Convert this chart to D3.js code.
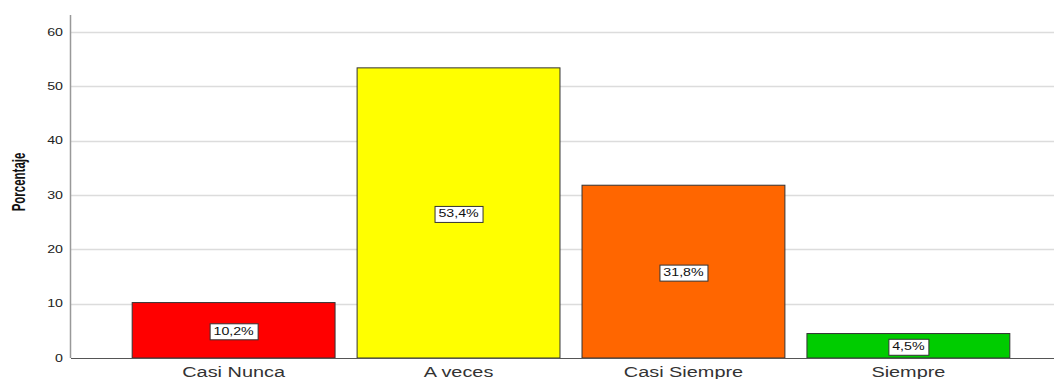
<!DOCTYPE html>
<html>
<head>
<meta charset="utf-8">
<script src="https://cdn.jsdelivr.net/npm/d3@7"></script>
<style>
  html, body { margin: 0; padding: 0; background: #fff; }
  svg { display: block; }
  text { font-family: "Liberation Sans", Arial, sans-serif; }
</style>
</head>
<body>
<div id="chart"></div>
<script>
// Respuestas por categoría (porcentaje)
const categories = ["Casi Nunca", "A veces", "Casi Siempre", "Siempre"];
const percentages = [10.2, 53.4, 31.8, 4.5];
const barColors = ["#ff0000", "#ffff00", "#ff6600", "#00cc00"];
const yTicks = [0, 10, 20, 30, 40, 50, 60];
const yLabel = "Porcentaje";

const W = 1057, H = 379;
const SX = 1.42; // horizontal text stretch used by the chart's typography

const svg = d3.select("#chart").append("svg")
  .attr("width", W).attr("height", H);

const x = d3.scaleBand()
  .domain(categories)
  .range([71, 1071])
  .paddingInner(0.098)
  .paddingOuter(0.272);

const y = d3.scaleLinear()
  .domain([0, 60])
  .range([358, 32]);

const plotLeft = 71, plotRight = 1054;

// Grid lines
svg.append("g")
  .selectAll("line")
  .data(yTicks.filter(d => d > 0))
  .join("line")
  .attr("x1", plotLeft).attr("x2", plotRight)
  .attr("y1", d => Math.round(y(d)) + 0.5)
  .attr("y2", d => Math.round(y(d)) + 0.5)
  .attr("stroke", "#dcdcdc")
  .attr("stroke-width", 1.5);

// Y tick labels
svg.append("g")
  .selectAll("text")
  .data(yTicks)
  .join("text")
  .attr("transform", d => `translate(63,${y(d)}) scale(${SX},1)`)
  .attr("text-anchor", "end")
  .attr("dy", "0.35em")
  .attr("font-size", 10)
  .attr("fill", "#222")
  .text(d => d);

// Bars
svg.append("g")
  .selectAll("rect")
  .data(percentages)
  .join("rect")
  .attr("x", (d, i) => x(categories[i]))
  .attr("y", d => y(d))
  .attr("width", x.bandwidth())
  .attr("height", d => y(0) - y(d))
  .attr("fill", (d, i) => barColors[i])
  .attr("stroke", "#333")
  .attr("stroke-width", 1);

// Y axis line
svg.append("line")
  .attr("x1", 70.5).attr("x2", 70.5)
  .attr("y1", 15).attr("y2", 358)
  .attr("stroke", "#999")
  .attr("stroke-width", 1.5);

// Baseline
svg.append("line")
  .attr("x1", plotLeft).attr("x2", plotRight)
  .attr("y1", 358.5).attr("y2", 358.5)
  .attr("stroke", "#555")
  .attr("stroke-width", 1);

// Category labels
svg.append("g")
  .selectAll("text")
  .data(categories)
  .join("text")
  .attr("transform", d => `translate(${x(d) + x.bandwidth() / 2},377) scale(${SX},1)`)
  .attr("text-anchor", "middle")
  .attr("font-size", 14)
  .attr("fill", "#333")
  .text(d => d);

// Value labels in boxes
const fmt = v => v.toFixed(1).replace(".", ",") + "%";
const lab = svg.append("g")
  .selectAll("g")
  .data(percentages)
  .join("g")
  .attr("transform", (d, i) => `translate(${x(categories[i]) + x.bandwidth() / 2},${(y(d) + y(0)) / 2 + 1})`);

lab.append("rect")
  .attr("fill", "#fff")
  .attr("stroke", "#333")
  .attr("stroke-width", 1);

lab.append("text")
  .attr("transform", `scale(${SX},1)`)
  .attr("text-anchor", "middle")
  .attr("dy", "0.35em")
  .attr("font-size", 10)
  .attr("fill", "#111")
  .text(d => fmt(d));

lab.each(function () {
  const g = d3.select(this);
  const bb = g.select("text").node().getBBox();
  const w = bb.width * SX + 8, h = 16;
  g.select("rect")
    .attr("x", Math.round(-w / 2) + 0.5)
    .attr("y", -h / 2 + 0.5)
    .attr("width", Math.round(w))
    .attr("height", h);
});

// Y axis title
svg.append("text")
  .attr("transform", `translate(25,182) scale(1.6,1) rotate(-90)`)
  .attr("text-anchor", "middle")
  .attr("font-size", 11.5)
  .attr("font-weight", "bold")
  .attr("fill", "#111")
  .text(yLabel);
</script>
</body>
</html>
